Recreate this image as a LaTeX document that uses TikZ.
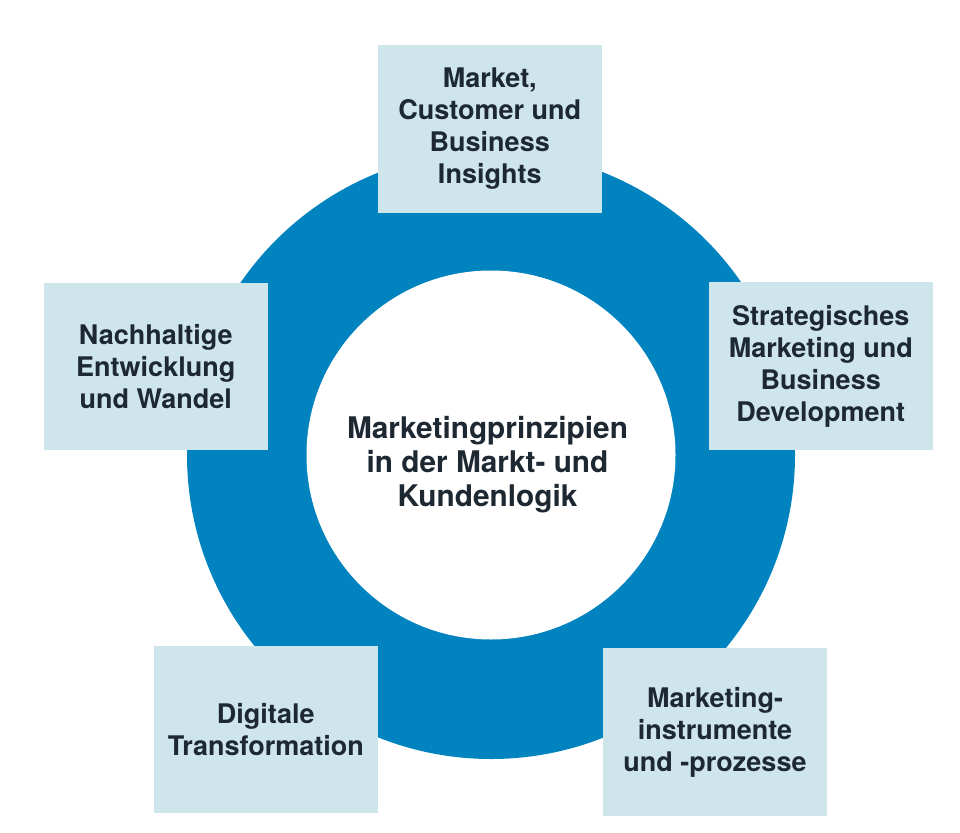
\documentclass[tikz,border=0pt]{standalone}
\usepackage{fontspec}
\setmainfont{TeX Gyre Heros}
\definecolor{ringblue}{RGB}{0,131,191}
\definecolor{boxblue}{RGB}{205,229,235}
\definecolor{txt}{RGB}{30,40,50}
\begin{document}
\begin{tikzpicture}[x=1pt,y=-1pt,
  topic/.style={rectangle, fill=boxblue, draw=none, inner sep=0pt, outer sep=0pt,
    minimum width=224pt, minimum height=167.5pt, align=center, text=txt,
    font=\bfseries\fontsize{27}{32}\selectfont},
  disc/.style={circle, draw=none, inner sep=0pt, outer sep=0pt}]
\useasboundingbox (0,0) rectangle (960,832);
\fill[white] (0,0) rectangle (960,832);
\node[disc, fill=ringblue, minimum size=608pt] (ring) at (491,455) {};
\node[disc, fill=white, minimum size=369pt] (core) at (491,455) {};
\node[align=center, text=txt, font=\bfseries\fontsize{29.8}{34}\selectfont] (title) at (487.5,465)
  {Marketingprinzipien\\in der Markt- und\\Kundenlogik};
\node[topic] (insights) at (489.75,128.9) {Market,\\Customer und\\Business\\Insights};
\node[topic] (nachhaltig) at (155.75,366.7) {Nachhaltige\\Entwicklung\\und Wandel};
\node[topic] (strategisch) at (820.75,366.2) {Strategisches\\Marketing und\\Business\\Development};
\node[topic] (digital) at (265.75,729.25) {Digitale\\Transformation};
\node[topic] (instrumente) at (715,732) {Marketing-\\instrumente\\und -prozesse};
\end{tikzpicture}
\end{document}
